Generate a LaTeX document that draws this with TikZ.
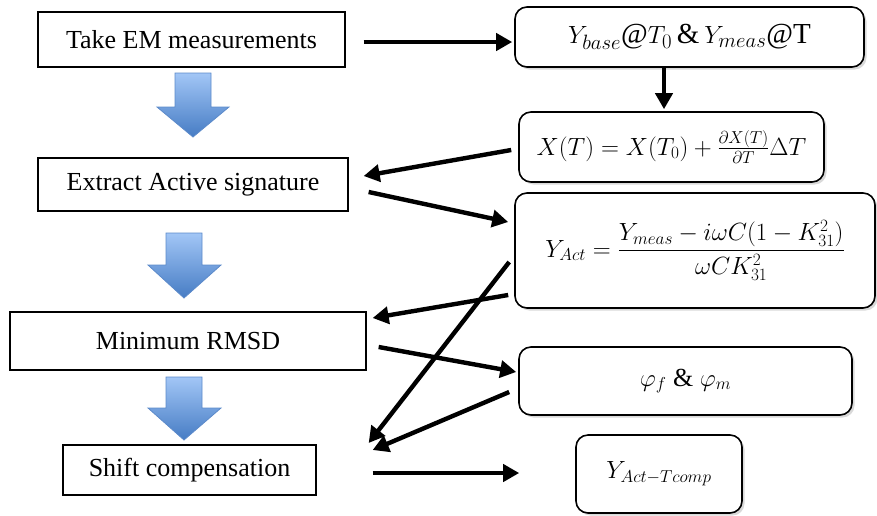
\documentclass[tikz,border=0pt]{standalone}
\usepackage{amsmath}
\usepackage{fontspec}
\setmainfont{Liberation Serif}
\usetikzlibrary{arrows.meta,calc,shadows}
\definecolor{arrtop}{RGB}{162,198,246}
\definecolor{arrbot}{RGB}{70,124,196}
\definecolor{arrline}{RGB}{92,138,202}
\begin{document}
\begin{tikzpicture}[x=1pt,y=-1pt,
  stepbox/.style={draw=black,line width=1.3pt,inner sep=0pt,font=\fontsize{26}{30}\selectfont},
  mathbox/.style={draw=black,line width=1.6pt,rounded corners=12pt,inner sep=0pt,fill=white,
    drop shadow={shadow xshift=2.5pt,shadow yshift=-2.5pt,opacity=0.3},font=\fontsize{26}{30}\selectfont},
  conn/.style={line width=4.4pt,-{Triangle[length=16pt,width=17pt]}},
  bluearr/.style={top color=arrtop,bottom color=arrbot,draw=arrline,line width=0.8pt}]
\useasboundingbox (0,0) rectangle (877,515);

% left column
\node[stepbox,minimum width=307pt,minimum height=55pt] (take) at (191.5,39.5) {Take EM measurements};
\node[stepbox,minimum width=310pt,minimum height=53pt] (extract) at (193,184.5) {Extract Active signature};
\node[stepbox,minimum width=356pt,minimum height=58pt] (rmsd) at (188,341) {Minimum RMSD};
\node[stepbox,minimum width=253pt,minimum height=50pt] (shift) at (189.5,470) {Shift compensation};

% right column
\node[mathbox,minimum width=349pt,minimum height=60pt,font=\fontsize{29}{33}\selectfont] (ybase) at (689.5,37) {$Y_{base}$@$T_0$\,\&\,$Y_{meas}$@T};
\node[mathbox,minimum width=305pt,minimum height=70pt] (xt) at (671.5,147) {$X(T)=X(T_0)+\frac{\partial X(T)}{\partial T}\Delta T$};
\node[mathbox,minimum width=360pt,minimum height=115pt] (yact) at (695,250.5) {$Y_{Act}=\dfrac{Y_{meas}-i\omega C(1-K_{31}^2)}{\omega C K_{31}^2}$};
\node[mathbox,minimum width=333pt,minimum height=68pt] (phi) at (685.5,381) {$\varphi_f$ \& $\varphi_m$};
\node[mathbox,minimum width=166pt,minimum height=78pt] (ycomp) at (659,474) {$Y_{Act-Tcomp}$};

% blue flow arrows
\path[bluearr] (175,73) -- (211,73) -- (211,107) -- (229,107) -- (193,137) -- (157,107) -- (175,107) -- cycle;
\path[bluearr] (166,233) -- (202,233) -- (202,265) -- (221,265) -- (184,298) -- (148,265) -- (166,265) -- cycle;
\path[bluearr] (166,377) -- (202,377) -- (202,408) -- (221,408) -- (184,440) -- (148,408) -- (166,408) -- cycle;

% connectors
\draw[conn] ($(take.east)+(18,2.5)$) -- ($(ybase.west)+(-2,5)$);
\draw[conn] ($(ybase.south)+(-25.5,0)$) -- ($(xt.north)+(-7.5,-2)$);
\draw[conn] ($(xt.west)+(-7,3)$) -- ($(extract.east)+(15,-8.5)$);
\draw[conn] ($(extract.east)+(20,7.5)$) -- ($(yact.west)+(-6,-28.5)$);
\draw[conn] ($(yact.west)+(-6,44.5)$) -- ($(rmsd.east)+(6,-23)$);
\draw[conn] ($(rmsd.east)+(12,6)$) -- ($(phi.west)+(-2,-9)$);
\draw[conn] ($(yact.west)+(-5,11.5)$) -- ($(shift.east)+(52,-27)$);
\draw[conn] ($(phi.west)+(-9,11)$) -- ($(shift.east)+(56,-20)$);
\draw[conn] ($(shift.east)+(56,3)$) -- ($(ycomp.west)+(-56,-1)$);
\end{tikzpicture}
\end{document}
